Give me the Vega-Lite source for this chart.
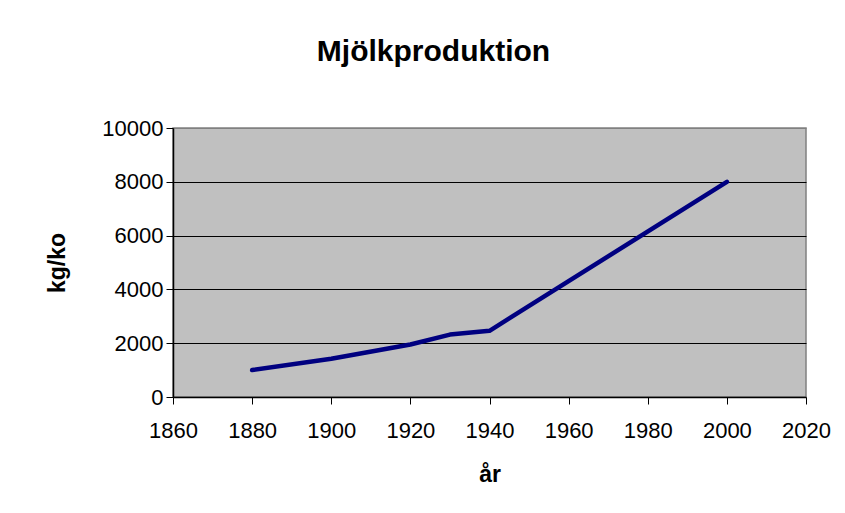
{
  "$schema": "https://vega.github.io/schema/vega-lite/v6.json",
  "width": 633,
  "height": 269,
  "autosize": {"type": "none"},
  "padding": {"left": 173, "top": 128, "right": 39, "bottom": 116},
  "background": "white",
  "title": {
    "text": "Mjölkproduktion",
    "font": "Liberation Sans",
    "fontSize": 30,
    "fontWeight": "bold",
    "color": "black",
    "anchor": "middle",
    "dx": -56,
    "offset": 50
  },
  "data": {
    "values": [
      {"år": 1880, "kg_ko": 1000},
      {"år": 1900, "kg_ko": 1420},
      {"år": 1920, "kg_ko": 1950},
      {"år": 1930, "kg_ko": 2320},
      {"år": 1940, "kg_ko": 2460},
      {"år": 2000, "kg_ko": 8000}
    ]
  },
  "mark": {"type": "line", "color": "#000080", "strokeWidth": 4.5, "strokeCap": "round", "strokeJoin": "round"},
  "encoding": {
    "x": {
      "field": "år",
      "type": "quantitative",
      "scale": {"domain": [1860, 2020], "nice": false, "zero": false},
      "axis": {
        "values": [1860, 1880, 1900, 1920, 1940, 1960, 1980, 2000, 2020],
        "format": "d",
        "title": "år",
        "grid": false,
        "labelFlush": false,
        "labelOverlap": false,
        "labelBound": false,
        "labelPadding": 16,
        "titlePadding": 22
      }
    },
    "y": {
      "field": "kg_ko",
      "type": "quantitative",
      "scale": {"domain": [0, 10000], "nice": false},
      "axis": {
        "values": [0, 2000, 4000, 6000, 8000, 10000],
        "format": "d",
        "title": "kg/ko",
        "grid": true,
        "gridColor": {"condition": {"test": "datum.value === 10000 || datum.value === 0", "value": "#808080"}, "value": "black"},
        "gridOpacity": 1,
        "gridWidth": 1,
        "labelFlush": false,
        "labelOverlap": false,
        "labelBound": false,
        "labelPadding": 3,
        "titlePadding": 32
      }
    }
  },
  "config": {
    "view": {"fill": "#C0C0C0", "stroke": "#808080", "strokeWidth": 1.5},
    "axis": {
      "domainColor": "black",
      "domainWidth": 1.5,
      "tickColor": "black",
      "tickSize": 7,
      "tickWidth": 1,
      "labelFont": "Liberation Sans",
      "labelFontSize": 22,
      "labelColor": "black",
      "titleFont": "Liberation Sans",
      "titleFontSize": 23,
      "titleFontWeight": "bold",
      "titleColor": "black"
    }
  }
}
